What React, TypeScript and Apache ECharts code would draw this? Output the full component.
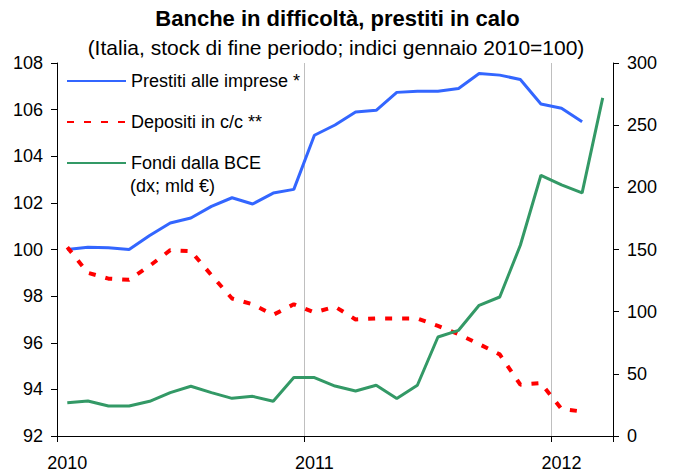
import React, { useEffect, useRef } from "react";
import * as echarts from "echarts";

const months: string[] = [
  "2010-01","2010-02","2010-03","2010-04","2010-05","2010-06","2010-07","2010-08","2010-09","2010-10","2010-11","2010-12",
  "2011-01","2011-02","2011-03","2011-04","2011-05","2011-06","2011-07","2011-08","2011-09","2011-10","2011-11","2011-12",
  "2012-01","2012-02","2012-03",
];

const prestiti: (number | null)[] = [
  100.0, 100.1, 100.07, 100.0, 100.6, 101.14, 101.35, 101.85, 102.22, 101.95, 102.42, 102.58,
  104.9, 105.34, 105.9, 105.97, 106.74, 106.79, 106.79, 106.91, 107.55, 107.48, 107.29, 106.24,
  106.06, 105.48, null,
];

const depositi: (number | null)[] = [
  100.1, 99.0, 98.75, 98.7, 99.3, 99.97, 99.93, 98.9, 97.9, 97.65, 97.2, 97.65,
  97.3, 97.55, 97.0, 97.04, 97.04, 97.04, 96.72, 96.37, 95.94, 95.5, 94.2, 94.27,
  93.16, 93.05, null,
];

const fondiBCE: number[] = [
  26.8, 28.2, 24.1, 24.1, 27.9, 34.9, 40.0, 34.9, 30.3, 31.9, 27.9, 47.0,
  47.0, 40.2, 36.2, 40.8, 30.1, 40.8, 79.6, 85.0, 105.1, 111.8, 153.4, 209.7,
  202.0, 195.5, 271.9,
];

const seriesNames = ["Prestiti alle imprese *", "Depositi in c/c **", "Fondi dalla BCE"];
const legendNote = "(dx; mld €)";
const titleText = "Banche in difficoltà, prestiti in calo";
const subtitleText = "(Italia, stock di fine periodo; indici gennaio 2010=100)";

const FONT = "'Liberation Sans', Arial, Helvetica, sans-serif";

export default function App() {
  const ref = useRef<HTMLDivElement>(null);

  useEffect(() => {
    if (!ref.current) return;
    document.body.style.margin = "0";
    document.body.style.overflow = "hidden";
    const chart = echarts.init(ref.current, null, { renderer: "svg" });
    const yearTick = (index: number) => index % 12 === 0;
    chart.setOption({
      animation: false,
      backgroundColor: "#ffffff",
      textStyle: { fontFamily: FONT },
      grid: { left: 57, right: 62, top: 63, bottom: 38, containLabel: false },
      legend: {
        orient: "vertical",
        left: 61,
        top: 66,
        itemWidth: 59,
        itemHeight: 14,
        itemGap: 21,
        itemStyle: { opacity: 0 },
        textStyle: { fontFamily: FONT, fontSize: 18, color: "#000", lineHeight: 20 },
        data: seriesNames,
      },
      graphic: [
        {
          type: "text",
          x: 337.5,
          y: 18,
          style: {
            text: titleText,
            font: `bold 22px ${FONT}`,
            fill: "#000",
            align: "center",
            verticalAlign: "middle",
          },
        },
        {
          type: "text",
          x: 336,
          y: 47,
          style: {
            text: subtitleText,
            font: `21px ${FONT}`,
            fill: "#000",
            align: "center",
            verticalAlign: "middle",
          },
        },
        {
          type: "text",
          x: 130,
          y: 186,
          style: {
            text: legendNote,
            font: `18px ${FONT}`,
            fill: "#000",
            verticalAlign: "middle",
          },
        },
      ],
      xAxis: {
        type: "category",
        data: months,
        boundaryGap: true,
        axisLine: { show: true, lineStyle: { color: "#000", width: 1 } },
        axisTick: { show: true, interval: yearTick, length: 6, lineStyle: { color: "#000" } },
        axisLabel: {
          interval: yearTick,
          margin: 18,
          fontSize: 18,
          color: "#000",
          fontFamily: FONT,
          formatter: (v: string) => v.slice(0, 4),
        },
        splitLine: { show: true, interval: yearTick, lineStyle: { color: "#bfbfbf", width: 1 } },
      },
      yAxis: [
        {
          type: "value",
          min: 92,
          max: 108,
          interval: 2,
          axisLine: { show: true, lineStyle: { color: "#000" } },
          axisTick: { show: true, length: 6, lineStyle: { color: "#000" } },
          axisLabel: { margin: 14, fontSize: 18, color: "#000", fontFamily: FONT },
          splitLine: { show: false },
        },
        {
          type: "value",
          min: 0,
          max: 300,
          interval: 50,
          position: "right",
          axisLine: { show: true, lineStyle: { color: "#000" } },
          axisTick: { show: true, length: 6, lineStyle: { color: "#000" } },
          axisLabel: { margin: 14, fontSize: 18, color: "#000", fontFamily: FONT },
          splitLine: { show: false },
        },
      ],
      series: [
        {
          name: seriesNames[0],
          type: "line",
          yAxisIndex: 0,
          data: prestiti,
          symbol: "none",
          color: "#3366ff",
          lineStyle: { color: "#3366ff", width: 3 },
        },
        {
          name: seriesNames[1],
          type: "line",
          yAxisIndex: 0,
          data: depositi,
          symbol: "none",
          color: "#ff0000",
          lineStyle: { color: "#ff0000", width: 4, type: [7, 10] },
        },
        {
          name: seriesNames[2],
          type: "line",
          yAxisIndex: 1,
          data: fondiBCE,
          symbol: "none",
          color: "#339966",
          lineStyle: { color: "#339966", width: 3 },
        },
      ],
    });
    return () => chart.dispose();
  }, []);

  return (
    <div
      ref={ref}
      style={{ position: "fixed", left: 0, top: 0, width: 675, height: 474 }}
    />
  );
}
